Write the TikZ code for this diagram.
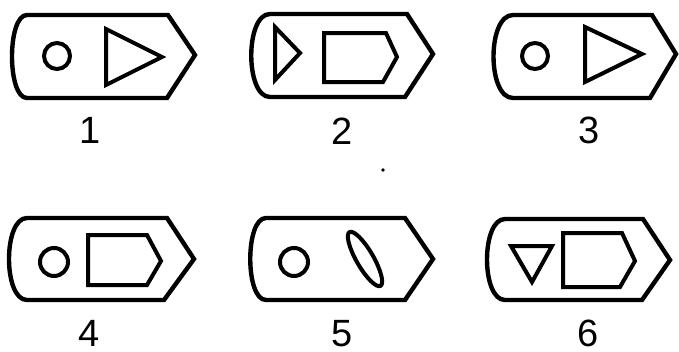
\documentclass[tikz,border=0pt]{standalone}
\usepackage{fontspec}
\setmainfont{Liberation Sans}
\tikzset{
  outline/.style={line width=4.4pt, line join=miter, black},
  inner/.style={line width=4pt, line join=miter, black},
  lbl/.style={anchor=base, inner sep=0pt, font=\fontsize{38}{40}\selectfont}
}
\begin{document}
\begin{tikzpicture}[x=1pt,y=-1pt]
\useasboundingbox (0,0) rectangle (679,351);
% Panel 1
\draw[outline] (27,15) -- (168,15) -- (195,55) -- (167,98) -- (27,98) .. controls (7,98) and (7,15) .. cycle;
\draw[inner] (57,56) circle (13);
\draw[inner] (106,29) -- (162,57) -- (106,85) -- cycle;
\node[lbl] (l1) at (90,143) {1};
% Panel 2
\draw[outline] (270,14) -- (407,14) -- (433,54) -- (405,97) -- (270,97) .. controls (245,97) and (245,14) .. cycle;
\draw[inner] (275,27) -- (300,53) -- (275,80) -- cycle;
\draw[inner] (324,33) -- (386,33) -- (397,57) -- (383,82) -- (324,82) -- cycle;
\node[lbl] (l2) at (342,144) {2};
% Panel 3
\draw[outline] (513,15) -- (652,15) -- (676,54) -- (650,98) -- (513,98) .. controls (487,98) and (487,15) .. cycle;
\draw[inner] (535,56) circle (13);
\draw[inner] (585,27) -- (642,54) -- (585,82) -- cycle;
\node[lbl] (l3) at (589,143) {3};
% stray dot
\fill (383,170) circle (1.8);
% Panel 4
\draw[outline] (27,218) -- (167,218) -- (194,259) -- (164,300) -- (27,300) .. controls (3,300) and (3,218) .. cycle;
\draw[inner] (54,262) circle (14);
\draw[inner] (88,235) -- (147,235) -- (161,261) -- (147,285) -- (88,285) -- cycle;
\node[lbl] (l4) at (89,346) {4};
% Panel 5
\draw[outline] (266,218) -- (405,218) -- (433,259) -- (405,300) -- (266,300) .. controls (245,300) and (245,218) .. cycle;
\draw[inner] (294,262) circle (14);
\draw[inner] (365,259) ellipse [x radius=31, y radius=8.5, rotate=-60];
\node[lbl] (l5) at (342,346) {5};
% Panel 6
\draw[outline] (505,219) -- (643,219) -- (670,260) -- (642,300) -- (505,300) .. controls (481,300) and (481,219) .. cycle;
\draw[inner] (511,246) -- (552,246) -- (532,282) -- cycle;
\draw[inner] (563,233) -- (622,233) -- (635,261) -- (620,287) -- (563,287) -- cycle;
\node[lbl] (l6) at (588,346) {6};
\end{tikzpicture}
\end{document}
